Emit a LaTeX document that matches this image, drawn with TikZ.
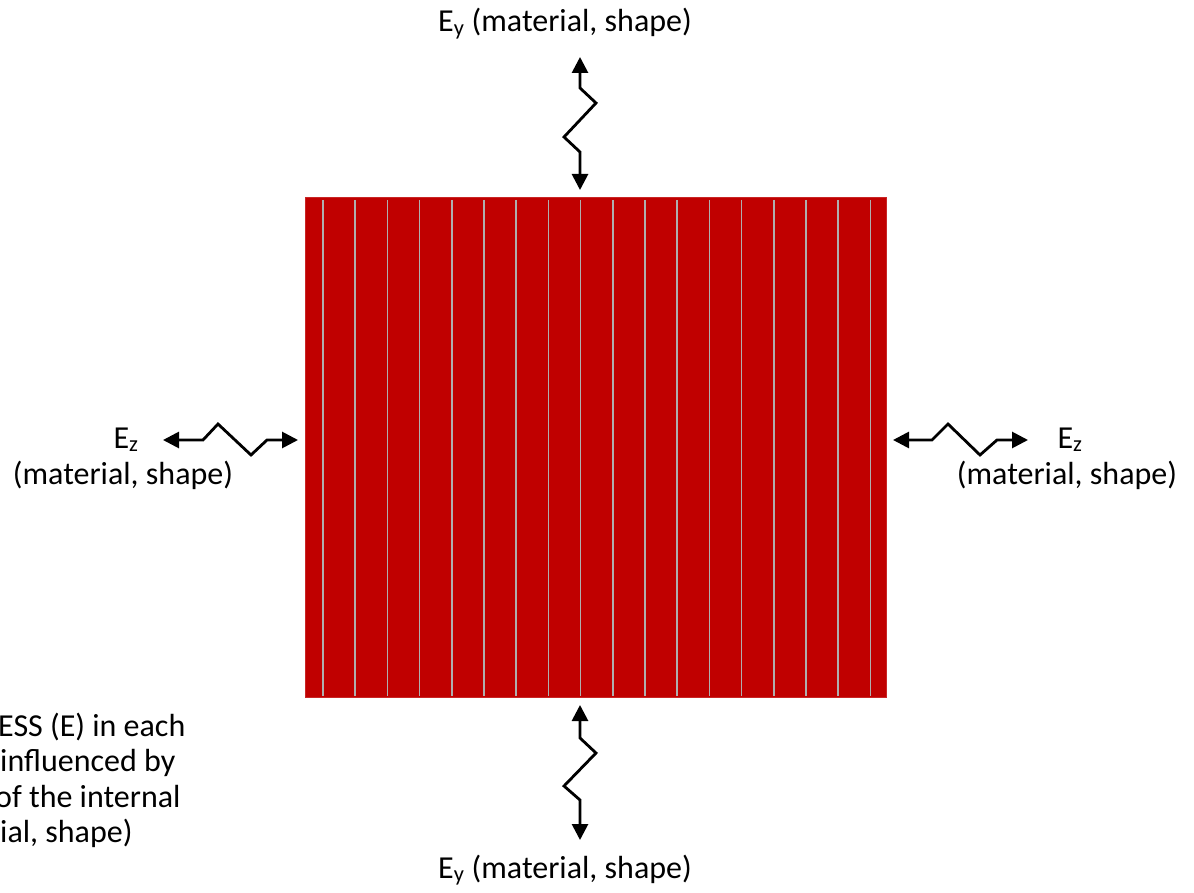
\documentclass[tikz,border=0pt]{standalone}
\usepackage{fontspec}
\setmainfont{Carlito}
\usetikzlibrary{arrows.meta}
\definecolor{blockred}{RGB}{192,0,0}
\definecolor{stripe}{RGB}{175,175,175}
\begin{document}
\begin{tikzpicture}[x=1pt,y=-1pt,
  lbl/.style={inner sep=0pt,font=\fontsize{32}{37}\selectfont},
  spring/.style={line width=2.8pt,line join=miter,{Triangle[length=16pt,width=16pt]}-{Triangle[length=16pt,width=16pt]}},
  stripeline/.style={stripe,line width=1.6pt}]
\useasboundingbox (0,0) rectangle (1194,893);
% block
\node[fill=blockred,draw=blockred!85!white,line width=1pt,inner sep=0pt,minimum width=581pt,minimum height=499pt] (block) at (595.5,447.5) {};
\foreach \k in {0,...,17}{
  \draw[stripeline] ({323+32.2*\k},200) -- ({323+32.2*\k},696);
}
% top spring
\coordinate (t1) at (580,57);
\coordinate (t2) at (580,190);
\draw[spring] (t1) -- (580,88) -- (596,103) -- (564,137) -- (580,152) -- (t2);
% bottom spring
\coordinate (b1) at (580,705);
\coordinate (b2) at (580,840);
\draw[spring] (b1) -- (580,738) -- (596,753) -- (564,786) -- (580,800) -- (b2);
% left spring
\coordinate (l1) at (163,440);
\coordinate (l2) at (298,440);
\draw[spring] (l1) -- (203,440) -- (218,424) -- (251,455) -- (267,440) -- (l2);
% right spring
\coordinate (r1) at (893,440);
\coordinate (r2) at (1028,440);
\draw[spring] (r1) -- (932,440) -- (948,424) -- (980,455) -- (997,440) -- (r2);
% labels
\node[lbl,anchor=base] (ytop) at (565,32) {E\textsubscript{y} (material, shape)};
\node[lbl,anchor=base] (ybot) at (565,878) {E\textsubscript{y} (material, shape)};
\node[lbl,anchor=base] (zl1) at (126,448) {E\textsubscript{z}};
\node[lbl,anchor=base] (zl2) at (123,484) {(material, shape)};
\node[lbl,anchor=base] (zr1) at (1070,448) {E\textsubscript{z}};
\node[lbl,anchor=base] (zr2) at (1067,484) {(material, shape)};
% bottom-left note (cut off at left edge, as in the reference)
\node[lbl,anchor=base west] (n1) at (-2,736) {ESS (E) in each};
\node[lbl,anchor=base west] (n2) at (0,771) {influenced by};
\node[lbl,anchor=base west] (n3) at (-5,807) {of the internal};
\node[lbl,anchor=base west] (n4) at (0,842) {ial, shape)};
\end{tikzpicture}
\end{document}
